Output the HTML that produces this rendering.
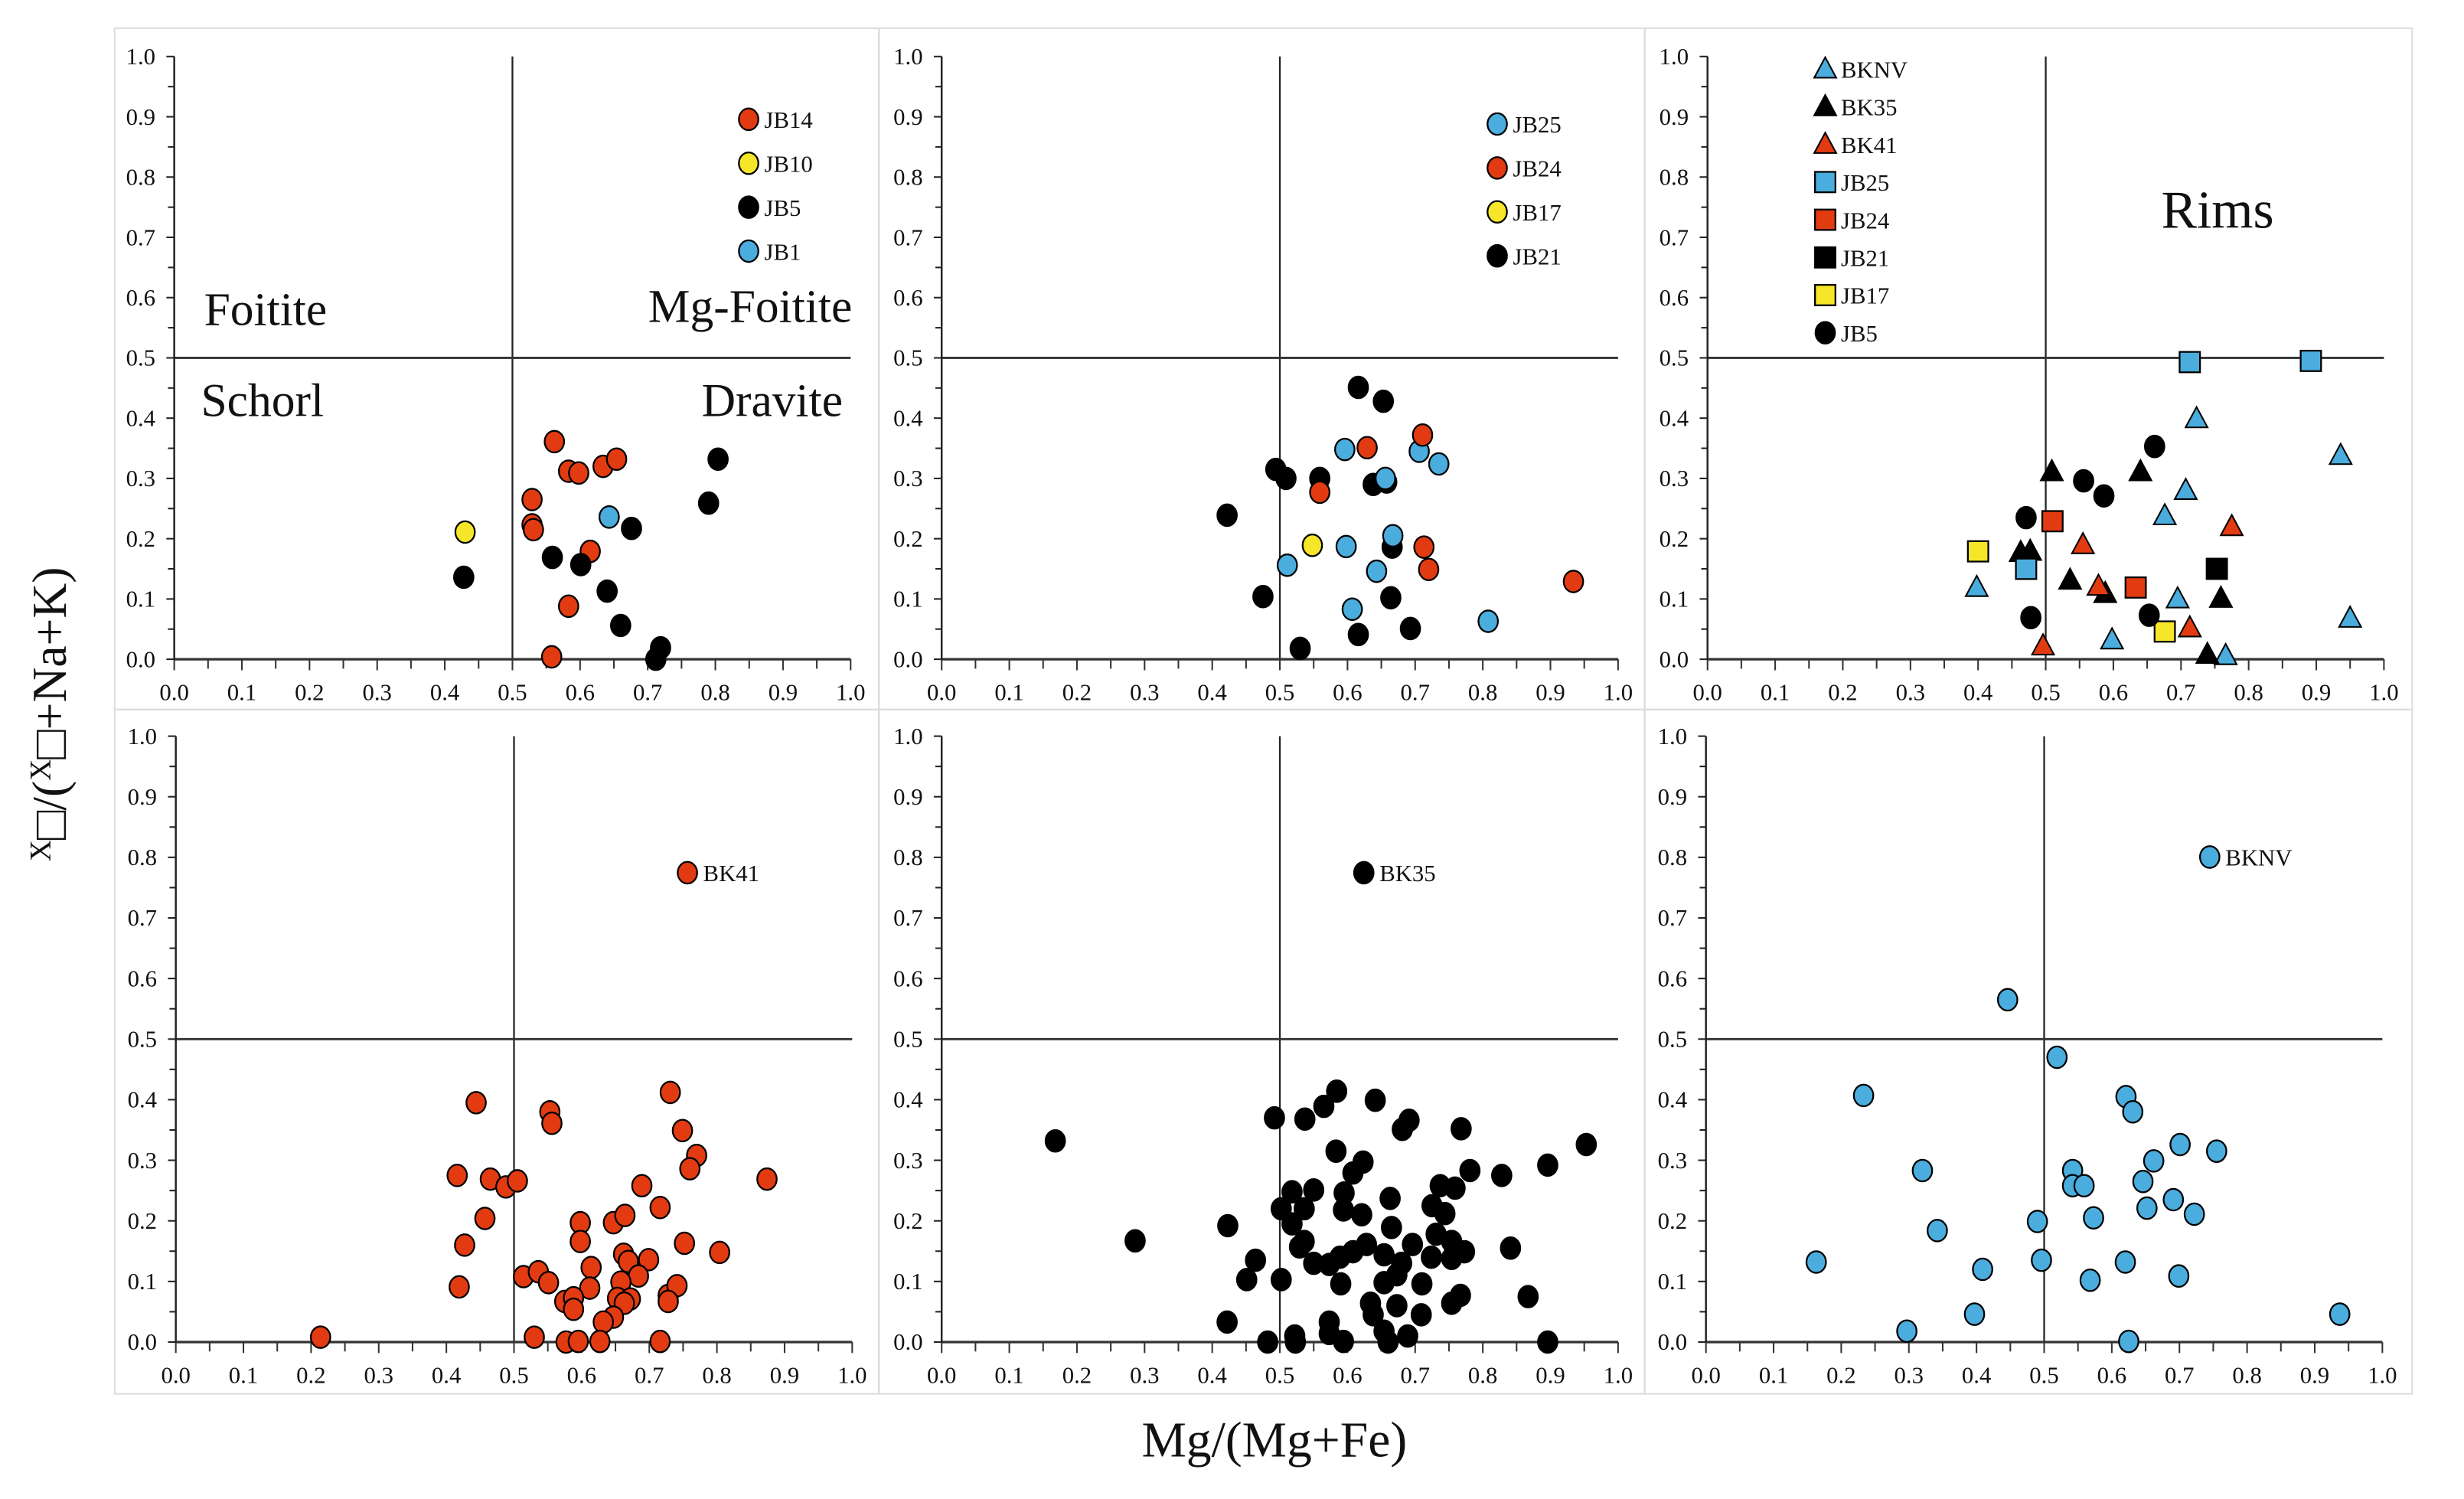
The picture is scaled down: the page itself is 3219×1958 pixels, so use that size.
<!DOCTYPE html>
<html><head><meta charset="utf-8"><style>
html,body{margin:0;padding:0;background:#fff;}
svg{display:block;font-family:"Liberation Serif","DejaVu Serif",serif;}
</style></head><body>
<svg id="fig" width="3219" height="1958" viewBox="0 0 1570 955" xmlns="http://www.w3.org/2000/svg">
<rect x="0" y="0" width="1570" height="955" fill="#fff"/>
<text x="42" y="455" transform="rotate(-90 42 455)" text-anchor="middle" font-size="31" fill="#111"><tspan font-size="19" dy="-10">X</tspan><tspan dy="10">□/(</tspan><tspan font-size="19" dy="-10">X</tspan><tspan dy="10">□+Na+K)</tspan></text>
<text x="812" y="928" text-anchor="middle" font-size="32" fill="#111">Mg/(Mg+Fe)</text>
</svg>
<script>
// ---------- data ----------
const xTicks = [0,0.1,0.2,0.3,0.4,0.5,0.6,0.7,0.8,0.9,1.0];
const yTicks = [0,0.1,0.2,0.3,0.4,0.5,0.6,0.7,0.8,0.9,1.0];
const tickLabels = ["0.0","0.1","0.2","0.3","0.4","0.5","0.6","0.7","0.8","0.9","1.0"];

// Panel 1
const p1_JB14_x = [0.562,0.583,0.598,0.634,0.654,0.529,0.529,0.531,0.615,0.583,0.558];
const p1_JB14_y = [0.361,0.312,0.309,0.320,0.332,0.265,0.223,0.215,0.179,0.088,0.004];
const p1_JB10_x = [0.430];
const p1_JB10_y = [0.211];
const p1_JB5_x = [0.428,0.559,0.601,0.676,0.640,0.660,0.712,0.719,0.790,0.804];
const p1_JB5_y = [0.136,0.169,0.157,0.217,0.113,0.056,0.000,0.019,0.259,0.332];
const p1_JB1_x = [0.643];
const p1_JB1_y = [0.236];

// Panel 2
const p2_JB25_x = [0.596,0.706,0.735,0.656,0.667,0.598,0.511,0.643,0.607,0.808];
const p2_JB25_y = [0.348,0.345,0.324,0.300,0.205,0.187,0.156,0.146,0.083,0.063];
const p2_JB24_x = [0.629,0.711,0.559,0.713,0.720,0.934];
const p2_JB24_y = [0.351,0.372,0.277,0.186,0.149,0.129];
const p2_JB17_x = [0.548];
const p2_JB17_y = [0.189];
const p2_JB21_x = [0.616,0.653,0.494,0.509,0.559,0.638,0.658,0.422,0.666,0.475,0.664,0.616,0.693,0.530];
const p2_JB21_y = [0.451,0.428,0.315,0.300,0.300,0.290,0.294,0.239,0.186,0.104,0.102,0.041,0.051,0.018];

// Panel 3 (rims)
const p3_BKNV_x = [0.398,0.598,0.676,0.707,0.723,0.695,0.766,0.936,0.950];
const p3_BKNV_y = [0.119,0.032,0.238,0.280,0.399,0.100,0.006,0.338,0.068];
const p3_BK35_x = [0.463,0.477,0.509,0.536,0.588,0.640,0.759,0.739];
const p3_BK35_y = [0.177,0.179,0.311,0.131,0.109,0.311,0.101,0.008];
const p3_BK41_x = [0.496,0.555,0.578,0.713,0.775];
const p3_BK41_y = [0.022,0.190,0.121,0.052,0.220];
const p3_JB25_x = [0.713,0.892,0.471];
const p3_JB25_y = [0.493,0.495,0.150];
const p3_JB24_x = [0.510,0.633];
const p3_JB24_y = [0.229,0.119];
const p3_JB21_x = [0.753];
const p3_JB21_y = [0.150];
const p3_JB17_x = [0.400,0.676];
const p3_JB17_y = [0.179,0.046];
const p3_JB5_x = [0.471,0.556,0.586,0.661,0.478,0.653];
const p3_JB5_y = [0.235,0.296,0.271,0.353,0.069,0.073];

// Panel 4
const p4_BK41_x = [0.214,0.444,0.553,0.556,0.731,0.749,0.770,0.760,0.874,0.416,0.465,0.488,0.505,0.689,0.457,0.598,0.647,0.664,0.716,0.427,0.598,0.752,0.804,0.662,0.669,0.699,0.614,0.684,0.514,0.536,0.551,0.419,0.612,0.658,0.575,0.588,0.588,0.653,0.672,0.663,0.728,0.741,0.728,0.647,0.632,0.530,0.577,0.595,0.627,0.716];
const p4_BK41_y = [0.008,0.395,0.380,0.361,0.412,0.349,0.308,0.286,0.269,0.275,0.269,0.256,0.266,0.258,0.204,0.197,0.197,0.209,0.222,0.160,0.166,0.163,0.148,0.145,0.133,0.136,0.123,0.109,0.108,0.116,0.098,0.091,0.089,0.099,0.067,0.073,0.054,0.072,0.071,0.064,0.077,0.093,0.067,0.041,0.033,0.008,0.000,0.001,0.001,0.001];

// Panel 5
const p5_BK35_x = [0.168,0.286,0.423,0.422,0.464,0.451,0.492,0.502,0.482,0.522,0.523,0.537,0.565,0.584,0.641,0.691,0.681,0.768,0.953,0.896,0.828,0.781,0.583,0.623,0.608,0.518,0.550,0.595,0.502,0.536,0.594,0.621,0.663,0.665,0.737,0.759,0.725,0.744,0.518,0.536,0.529,0.628,0.608,0.589,0.550,0.573,0.654,0.696,0.731,0.754,0.773,0.724,0.754,0.841,0.680,0.654,0.673,0.590,0.710,0.767,0.754,0.867,0.634,0.673,0.709,0.638,0.573,0.573,0.594,0.654,0.660,0.689,0.896];
const p5_BK35_y = [0.332,0.167,0.192,0.033,0.135,0.103,0.370,0.103,0.000,0.010,0.000,0.368,0.389,0.414,0.399,0.366,0.351,0.352,0.326,0.292,0.275,0.283,0.315,0.297,0.279,0.248,0.251,0.246,0.220,0.220,0.218,0.210,0.237,0.189,0.258,0.254,0.225,0.212,0.195,0.166,0.157,0.161,0.149,0.140,0.130,0.128,0.144,0.161,0.178,0.166,0.149,0.140,0.138,0.155,0.130,0.098,0.111,0.096,0.096,0.077,0.064,0.075,0.064,0.060,0.045,0.045,0.033,0.014,0.001,0.018,0.000,0.010,0.000];

// Panel 6
const p6_BKNV_x = [0.446,0.519,0.233,0.621,0.631,0.701,0.755,0.662,0.320,0.542,0.542,0.559,0.646,0.691,0.652,0.722,0.573,0.490,0.342,0.163,0.409,0.496,0.620,0.568,0.699,0.397,0.937,0.297,0.625];
const p6_BKNV_y = [0.565,0.470,0.407,0.405,0.380,0.326,0.315,0.299,0.283,0.283,0.258,0.258,0.265,0.235,0.221,0.211,0.205,0.199,0.184,0.132,0.120,0.135,0.132,0.102,0.109,0.046,0.046,0.018,0.001];

// ---------- drawing ----------
const svg = document.getElementById('fig');
const NS = 'http://www.w3.org/2000/svg';
const COL = {red:'#e23b12', yellow:'#f6e629', blue:'#4badde', black:'#000'};

function mk(tag, attrs, parent){
  const el = document.createElementNS(NS, tag);
  for (const k in attrs) el.setAttribute(k, attrs[k]);
  (parent || svg).appendChild(el);
  return el;
}

const frames = [
  {bx:73,by:18,bw:487,bh:434, x0:111,x1:542,yT:36,yB:420},
  {bx:560,by:18,bw:488,bh:434, x0:600,x1:1031,yT:36,yB:420},
  {bx:1048,by:18,bw:489,bh:434, x0:1088,x1:1519,yT:36,yB:420},
  {bx:73,by:452,bw:487,bh:436, x0:112,x1:543,yT:469,yB:855},
  {bx:560,by:452,bw:488,bh:436, x0:600,x1:1031,yT:469,yB:855},
  {bx:1048,by:452,bw:489,bh:436, x0:1087,x1:1518,yT:469,yB:855}
];

function axes(f, idx){
  const g = mk('g', {});
  
  
  const box = mk('rect', {x:f.bx, y:f.by, width:f.bw, height:f.bh, fill:'none', stroke:'#dcdcdc', 'stroke-width':1}, g);
  
  
  const sx = v => f.x0 + v*(f.x1-f.x0);
  const sy = v => f.yB - v*(f.yB-f.yT);
  f.sx = sx; f.sy = sy;
  const vl = mk('line', {x1:sx(0.5), y1:sy(0), x2:sx(0.5), y2:sy(1), stroke:'#222', 'stroke-width':1.1}, g);
  
  
  const hl = mk('line', {x1:sx(0), y1:sy(0.5), x2:sx(1), y2:sy(0.5), stroke:'#333', 'stroke-width':1.4}, g);
  
  
  const xa = mk('line', {x1:sx(0), y1:sy(0), x2:sx(1), y2:sy(0), stroke:'#333', 'stroke-width':1.6}, g);
  
  
  const ya = mk('line', {x1:sx(0), y1:sy(0), x2:sx(0), y2:sy(1), stroke:'#222', 'stroke-width':1.2}, g);
  
  
  for (let i=0;i<=20;i++){
    const v = i/20;
    const major = i%2===0;
    const tx = mk('line', {x1:sx(v), y1:sy(0), x2:sx(v), y2:sy(0)+(major?7:6), stroke:'#333', 'stroke-width':1}, g);
    
    
    const ty = mk('line', {x1:sx(0)-(major?5:4), y1:sy(v), x2:sx(0), y2:sy(v), stroke:'#222', 'stroke-width':1}, g);
    
    
  }
  xTicks.forEach((v,i)=>{
    const t = mk('text', {x:sx(v), y:sy(0)+26, 'text-anchor':'middle', 'font-size':15, fill:'#111'}, g);
    t.textContent = tickLabels[i];
    
    
  });
  yTicks.forEach((v,i)=>{
    const t = mk('text', {x:sx(0)-12, y:sy(v)+5, 'text-anchor':'end', 'font-size':15, fill:'#111'}, g);
    t.textContent = tickLabels[i];
    
    
  });
  return g;
}

function marker(shape, color, cx, cy, parent){
  let el;
  if (shape==='circle') el = mk('ellipse', {cx:cx, cy:cy, rx:6.2, ry:6.9, fill:color, stroke:'#000', 'stroke-width':1.1}, parent);
  else if (shape==='square') el = mk('rect', {x:cx-6.5, y:cy-6.5, width:13, height:13, fill:color, stroke:'#000', 'stroke-width':1.1}, parent);
  else el = mk('polygon', {points:(cx)+','+(cy-7.5)+' '+(cx+7)+','+(cy+5.5)+' '+(cx-7)+','+(cy+5.5), fill:color, stroke:'#000', 'stroke-width':1}, parent);
  return el;
}

function series(f, xs, ys, shape, color, name){
  const g = mk('g', {});
  
  
  xs.forEach((x,i)=>{
    const m = marker(shape, color, f.sx(x), f.sy(ys[i]), g);
    
    
  });
}

function legendItem(x, y, shape, color, label){
  const g = mk('g', {});
  
  
  const m = marker(shape, color, x, y, g);
  
  
  const t = mk('text', {x:x+10, y:y+5.5, 'font-size':15, fill:'#111'}, g);
  t.textContent = label;
  
  
}

function label(x, y, txt, size, anchor, name){
  const t = mk('text', {x:x, y:y, 'font-size':size, 'text-anchor':anchor, fill:'#111'});
  t.textContent = txt;
  
  
}

frames.forEach((f,i)=>axes(f,i));
const [F1,F2,F3,F4,F5,F6] = frames;

// Panel 1
label(130, 207, 'Foitite', 30, 'start', 'foitite-field-label');
label(543, 205, 'Mg-Foitite', 30, 'end', 'mg-foitite-field-label');
label(128, 265, 'Schorl', 30, 'start', 'schorl-field-label');
label(537, 265, 'Dravite', 30, 'end', 'dravite-field-label');
series(F1, p1_JB14_x, p1_JB14_y, 'circle', COL.red, 'jb14');
series(F1, p1_JB10_x, p1_JB10_y, 'circle', COL.yellow, 'jb10');
series(F1, p1_JB5_x, p1_JB5_y, 'circle', COL.black, 'jb5');
series(F1, p1_JB1_x, p1_JB1_y, 'circle', COL.blue, 'jb1');
legendItem(477, 76, 'circle', COL.red, 'JB14');
legendItem(477, 104, 'circle', COL.yellow, 'JB10');
legendItem(477, 132, 'circle', COL.black, 'JB5');
legendItem(477, 160, 'circle', COL.blue, 'JB1');

// Panel 2
series(F2, p2_JB21_x, p2_JB21_y, 'circle', COL.black, 'jb21');
series(F2, p2_JB25_x, p2_JB25_y, 'circle', COL.blue, 'jb25');
series(F2, p2_JB24_x, p2_JB24_y, 'circle', COL.red, 'jb24');
series(F2, p2_JB17_x, p2_JB17_y, 'circle', COL.yellow, 'jb17');
legendItem(954, 79, 'circle', COL.blue, 'JB25');
legendItem(954, 107, 'circle', COL.red, 'JB24');
legendItem(954, 135, 'circle', COL.yellow, 'JB17');
legendItem(954, 163, 'circle', COL.black, 'JB21');

// Panel 3
label(1413, 145, 'Rims', 34, 'middle', 'rims-label');
series(F3, p3_BKNV_x, p3_BKNV_y, 'triangle', COL.blue, 'bknv-rim');
series(F3, p3_BK35_x, p3_BK35_y, 'triangle', COL.black, 'bk35-rim');
series(F3, p3_BK41_x, p3_BK41_y, 'triangle', COL.red, 'bk41-rim');
series(F3, p3_JB25_x, p3_JB25_y, 'square', COL.blue, 'jb25-rim');
series(F3, p3_JB24_x, p3_JB24_y, 'square', COL.red, 'jb24-rim');
series(F3, p3_JB21_x, p3_JB21_y, 'square', COL.black, 'jb21-rim');
series(F3, p3_JB17_x, p3_JB17_y, 'square', COL.yellow, 'jb17-rim');
series(F3, p3_JB5_x, p3_JB5_y, 'circle', COL.black, 'jb5-rim');
legendItem(1163, 44, 'triangle', COL.blue, 'BKNV');
legendItem(1163, 68, 'triangle', COL.black, 'BK35');
legendItem(1163, 92, 'triangle', COL.red, 'BK41');
legendItem(1163, 116, 'square', COL.blue, 'JB25');
legendItem(1163, 140, 'square', COL.red, 'JB24');
legendItem(1163, 164, 'square', COL.black, 'JB21');
legendItem(1163, 188, 'square', COL.yellow, 'JB17');
legendItem(1163, 212, 'circle', COL.black, 'JB5');

// Panel 4-6
series(F4, p4_BK41_x, p4_BK41_y, 'circle', COL.red, 'bk41');
legendItem(438, 556, 'circle', COL.red, 'BK41');
series(F5, p5_BK35_x, p5_BK35_y, 'circle', COL.black, 'bk35');
legendItem(869, 556, 'circle', COL.black, 'BK35');
series(F6, p6_BKNV_x, p6_BKNV_y, 'circle', COL.blue, 'bknv');
legendItem(1408, 546, 'circle', COL.blue, 'BKNV');
</script>
</body></html>
